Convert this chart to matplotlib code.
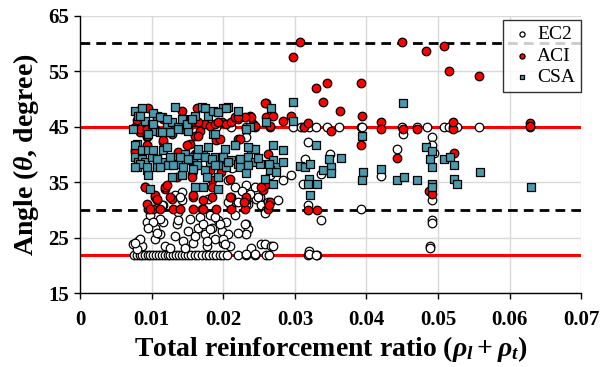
import matplotlib
matplotlib.use("Agg")
import matplotlib.pyplot as plt

plt.rcParams['font.family'] = ['Liberation Serif', 'DejaVu Serif']
plt.rcParams['mathtext.fontset'] = 'custom'
plt.rcParams['mathtext.rm'] = 'Liberation Serif:bold'
plt.rcParams['mathtext.it'] = 'Liberation Serif:italic:bold'
plt.rcParams['mathtext.bf'] = 'Liberation Serif:bold'

# ---------------- data ----------------
ec2_bottom_x = [0.0075, 0.0079, 0.0083, 0.0086, 0.009, 0.0094, 0.0098, 0.0102, 0.0106, 0.011,
                0.0114, 0.0118, 0.0122, 0.0126, 0.013, 0.0134, 0.0138, 0.0142, 0.0146, 0.015,
                0.0155, 0.016, 0.0165, 0.017, 0.0175, 0.018, 0.0185, 0.019, 0.0195, 0.02,
                0.0205, 0.0221, 0.0232, 0.0244, 0.026, 0.0264, 0.0318, 0.0331]
ec2_bottom_y = [21.8] * len(ec2_bottom_x)

ec2_row45_x = [0.019, 0.021, 0.0232, 0.0244, 0.0265, 0.0297, 0.0308, 0.0313, 0.0319, 0.033,
               0.0345, 0.0362, 0.0393, 0.0394, 0.045, 0.047, 0.0484, 0.0508, 0.0516, 0.0521,
               0.0526, 0.0557, 0.0629]
ec2_row45_y = [45.0] * len(ec2_row45_x)

ec2_x = [0.0074, 0.0081, 0.0086, 0.0079, 0.0104, 0.0104, 0.0111, 0.0116, 0.0118, 0.0125,
         0.0132, 0.0135, 0.0137, 0.0142, 0.0142, 0.0144, 0.0146, 0.0151, 0.0153, 0.0158,
         0.016, 0.0165, 0.0167, 0.017, 0.0172, 0.0174, 0.0177, 0.0179, 0.0181, 0.0184,
         0.0188, 0.0193, 0.0198, 0.02, 0.0204, 0.0207, 0.0209, 0.0211, 0.0216, 0.0221,
         0.0232, 0.0235, 0.0232, 0.0239, 0.0253, 0.0258, 0.0267, 0.0246, 0.0251, 0.0235,
         0.0253, 0.0277, 0.0132, 0.0116, 0.0111, 0.0093, 0.0097, 0.0102, 0.0095, 0.0107,
         0.0083, 0.0076, 0.0114, 0.0137, 0.0139,
         0.0207, 0.0216, 0.0232, 0.0244, 0.0232, 0.0207, 0.026, 0.023, 0.0221, 0.0195,
         0.0188, 0.0181, 0.0177, 0.02, 0.0202, 0.027, 0.0232, 0.0244,
         0.0212, 0.0226, 0.0232, 0.0237, 0.0249, 0.0263, 0.0258, 0.0265, 0.0284, 0.0295,
         0.0318, 0.0314, 0.0349, 0.0337, 0.0311, 0.0318, 0.0337, 0.0393, 0.0442, 0.0451,
         0.042, 0.032, 0.032, 0.033,
         0.0491, 0.0492, 0.0494, 0.0491, 0.0491, 0.0491, 0.0489, 0.0489]
ec2_y = [23.8, 24.4, 23.5, 22.9, 26.8, 24.7, 25.6, 27.8, 23.5, 23.2,
         25.3, 27.5, 29.6, 31.7, 33.2, 24.4, 23.2, 26.2, 28.4, 24.1,
         25.3, 26.8, 28.7, 30.2, 27.5, 25.6, 23.5, 32.0, 29.0, 26.8,
         24.7, 28.1, 26.2, 24.1, 27.8, 25.6, 23.5, 30.5, 29.0, 31.4,
         27.5, 26.6, 25.6, 23.2, 23.8, 23.8, 23.5, 32.0, 32.3, 31.1,
         30.8, 31.7, 32.6, 30.8, 28.4, 27.8, 29.0, 27.8, 26.8, 25.9,
         24.7, 24.1, 30.8, 28.1, 32.3,
         35.3, 34.1, 34.4, 34.1, 31.1, 31.4, 29.9, 27.5, 25.9, 27.5,
         28.7, 26.6, 24.4, 24.7, 23.8, 23.5, 22.0, 22.0,
         37.6, 33.4, 43.1, 32.9, 32.3, 31.4, 29.4, 36.2, 35.3, 36.2,
         42.2, 39.2, 40.1, 36.5, 34.6, 30.8, 28.1, 30.1, 40.9, 43.6,
         36.1, 22.6, 22.0, 21.9,
         43.1, 41.6, 40.2, 31.7, 28.1, 27.7, 23.5, 23.1]

aci_x = [0.0081, 0.0095, 0.0077, 0.0083, 0.0088, 0.0116, 0.0116, 0.0093, 0.0077, 0.0137,
         0.0142, 0.0146, 0.0132, 0.0153, 0.016, 0.0167, 0.0174, 0.0181, 0.0188, 0.0198,
         0.0204, 0.0211, 0.0221, 0.0216, 0.0221, 0.019, 0.0202, 0.0197, 0.0184, 0.0211,
         0.0209, 0.0181, 0.016, 0.0156, 0.0135, 0.0118, 0.0104, 0.0107, 0.009, 0.0128,
         0.0158, 0.0184, 0.0209,
         0.0094, 0.0102, 0.013, 0.0139, 0.0158, 0.0172, 0.019, 0.0211, 0.023, 0.0263,
         0.0093, 0.0104, 0.0118, 0.0158, 0.0172, 0.0184, 0.0232, 0.0256, 0.0265,
         0.0307, 0.0297, 0.0329, 0.0345, 0.0393, 0.0339, 0.0363, 0.0394, 0.042, 0.042,
         0.0451, 0.047, 0.0521, 0.0521, 0.0629, 0.0629, 0.045, 0.0483, 0.0508, 0.0516,
         0.0557, 0.0393, 0.0442, 0.0523, 0.0488, 0.0491,
         0.0259, 0.0259, 0.0269, 0.0283, 0.0295, 0.0312, 0.0318, 0.035, 0.0237, 0.0242,
         0.0232, 0.0263, 0.0258, 0.0253, 0.0231, 0.0229, 0.0264, 0.0318, 0.0331,
         0.0079, 0.0083, 0.0093, 0.0104, 0.0128, 0.0142, 0.0151, 0.016, 0.0163, 0.0093,
         0.0116, 0.0093, 0.0149, 0.0076, 0.0163,
         0.0258, 0.0239, 0.023, 0.0221, 0.0193, 0.0165, 0.0244, 0.0265, 0.0223, 0.0195,
         0.0165, 0.009, 0.0107, 0.0125, 0.0121, 0.0156, 0.0111, 0.0097]
aci_y = [47.9, 48.3, 44.9, 44.0, 44.6, 46.4, 42.2, 43.1, 40.7, 40.4,
         47.9, 45.5, 44.9, 41.9, 45.8, 44.3, 45.5, 45.2, 45.5, 45.8,
         45.5, 45.8, 46.4, 46.7, 42.8, 42.5, 38.9, 36.8, 35.3, 32.3,
         35.6, 37.1, 40.1, 36.5, 35.9, 33.8, 32.3, 31.7, 34.1, 32.0,
         32.3, 32.3, 32.3,
         30.2, 30.2, 30.2, 30.2, 30.2, 30.2, 30.2, 30.2, 30.2, 30.2,
         31.1, 32.6, 34.1, 32.6, 31.7, 34.1, 31.7, 33.5, 31.4,
         60.2, 57.5, 52.0, 52.8, 52.8, 49.5, 47.8, 47.0, 45.8, 44.5,
         44.6, 44.6, 44.6, 45.8, 45.7, 45.1, 60.2, 58.7, 59.6, 55.1,
         54.2, 41.7, 39.3, 40.3, 33.4, 32.9,
         49.2, 46.7, 46.9, 46.1, 46.9, 44.9, 45.7, 44.3, 46.9, 45.4,
         44.6, 40.1, 34.4, 34.1, 32.4, 31.4, 30.8, 30.0, 30.0,
         46.2, 44.6, 44.6, 44.6, 43.7, 44.6, 44.6, 43.4, 48.3, 43.4,
         42.5, 41.6, 41.6, 40.4, 38.0,
         49.2, 46.7, 46.7, 46.7, 45.8, 45.8, 45.2, 45.2, 42.8, 42.8,
         43.4, 34.1, 32.0, 32.3, 34.4, 35.9, 30.2, 30.2]

csa_x = [0.0077, 0.0086, 0.0081, 0.009, 0.01, 0.0107, 0.0114, 0.0104, 0.0121, 0.0128,
         0.0132, 0.0137, 0.0144, 0.0151, 0.016, 0.017, 0.0174, 0.0179, 0.0186, 0.0193,
         0.02, 0.0207, 0.0095, 0.0111, 0.0125, 0.0186, 0.0179, 0.0216,
         0.0079, 0.0077, 0.0081, 0.0079, 0.0086, 0.009, 0.0093, 0.0095, 0.01, 0.0107,
         0.0107, 0.0114, 0.0116, 0.0123, 0.0128, 0.0132, 0.0137, 0.0142, 0.0146, 0.0151,
         0.0158, 0.0163, 0.0172, 0.0174, 0.0172, 0.0177, 0.0181, 0.0188, 0.0193, 0.0193,
         0.0198, 0.0204, 0.0211, 0.0221, 0.0223, 0.0097, 0.016, 0.0193,
         0.0083, 0.0102, 0.0111, 0.0121, 0.0142, 0.0149, 0.0156, 0.0074, 0.0102, 0.0114,
         0.0137, 0.0077, 0.0086, 0.0095, 0.0102, 0.0107, 0.0121, 0.0125, 0.0139, 0.0151,
         0.0163, 0.0083, 0.0077, 0.0093, 0.0111, 0.013, 0.0144, 0.0158,
         0.0193, 0.0204, 0.0221, 0.0267, 0.026, 0.0237, 0.0232, 0.0188, 0.0216, 0.0239,
         0.0244, 0.027, 0.0202, 0.0165, 0.0174, 0.0184, 0.02, 0.0207, 0.0223, 0.0235,
         0.0244, 0.0251, 0.027, 0.0274, 0.0188, 0.0223, 0.0235, 0.0265,
         0.0297, 0.0297, 0.0235, 0.0284, 0.0249, 0.0283, 0.0264, 0.0273, 0.0258, 0.027,
         0.0232, 0.0307, 0.0314, 0.0321, 0.0319, 0.0318, 0.0331, 0.0321, 0.033, 0.0339,
         0.035, 0.035, 0.0348, 0.0365, 0.0394, 0.0395, 0.0394, 0.042, 0.0451, 0.0443,
         0.0452, 0.0471, 0.0483, 0.0489, 0.0491, 0.0492, 0.0491, 0.0509, 0.0517, 0.0522,
         0.0522, 0.0526, 0.0558, 0.063, 0.0491]
csa_y = [47.9, 48.3, 47.0, 46.1, 45.5, 47.0, 46.7, 44.3, 45.5, 45.8,
         48.5, 44.9, 46.4, 44.3, 47.0, 48.5, 48.3, 47.0, 47.9, 47.6,
         48.3, 48.5, 43.7, 44.0, 44.0, 43.7, 41.3, 41.6,
         41.9, 39.5, 38.6, 37.7, 39.2, 38.6, 37.1, 36.2, 39.5, 39.2,
         37.7, 38.6, 40.7, 38.0, 35.9, 39.5, 38.3, 36.2, 40.1, 38.9,
         39.5, 38.0, 39.8, 37.1, 34.1, 35.9, 38.6, 39.5, 38.0, 35.9,
         39.5, 37.7, 38.9, 38.3, 39.2, 33.8, 34.1, 33.8,
         47.0, 47.4, 46.7, 46.4, 46.4, 45.5, 46.4, 44.6, 45.5, 44.0,
         44.6, 41.6, 40.7, 40.7, 40.7, 39.2, 41.3, 39.5, 39.5, 39.2,
         39.8, 38.3, 37.7, 37.7, 37.7, 38.0, 37.7, 37.4,
         47.6, 48.3, 47.9, 48.3, 45.8, 44.9, 44.6, 43.7, 41.6, 41.0,
         41.0, 41.6, 41.0, 41.0, 39.5, 39.2, 39.5, 38.6, 39.2, 39.5,
         38.6, 38.3, 38.9, 37.7, 38.0, 37.7, 38.0, 37.1,
         49.5, 46.1, 41.3, 40.7, 39.4, 38.6, 38.2, 36.8, 35.6, 34.7,
         36.7, 37.9, 37.7, 38.2, 35.5, 34.7, 34.6, 32.6, 41.6, 37.2,
         37.7, 36.6, 39.2, 39.4, 43.3, 36.8, 35.3, 37.4, 49.3, 35.4,
         36.0, 35.4, 41.4, 39.2, 37.7, 34.7, 34.1, 39.1, 39.5, 38.0,
         35.6, 34.7, 36.8, 34.1, 40.6]

red_lines = [45.0, 21.8]
dashed_lines = [60.0, 30.0]
x_ticks = [0, 0.01, 0.02, 0.03, 0.04, 0.05, 0.06, 0.07]
x_tick_labels = ['0', '0.01', '0.02', '0.03', '0.04', '0.05', '0.06', '0.07']
y_ticks = [15, 25, 35, 45, 55, 65]

# ---------------- plot ----------------
fig = plt.figure(figsize=(6.13, 3.67), dpi=100)
ax = fig.add_axes([0.1310, 0.2016, 0.8170, 0.7556])

ax.set_xlim(0, 0.07)
ax.set_ylim(15, 65)
ax.set_xticks(x_ticks)
ax.set_xticklabels(x_tick_labels)
ax.set_yticks(y_ticks)
ax.grid(True, color='#d9d9d9', linewidth=1.0, zorder=0)
ax.set_axisbelow(True)

for yv in red_lines:
    ax.axhline(yv, color='#ff0000', linewidth=2.2, zorder=1)
for yv in dashed_lines:
    ax.axhline(yv, color='black', linewidth=2.0, linestyle=(0, (3.5, 2.2)), zorder=1)

ax.scatter(ec2_bottom_x + ec2_row45_x + ec2_x, ec2_bottom_y + ec2_row45_y + ec2_y,
           s=38, marker='o', facecolors='white', edgecolors='black', linewidths=0.9,
           zorder=3, label='EC2')
ax.scatter(aci_x, aci_y, s=38, marker='o', facecolors='#ff0000', edgecolors='black',
           linewidths=0.9, zorder=4, label='ACI')
ax.scatter(csa_x, csa_y, s=27, marker='s', facecolors='#4a9aae', edgecolors='black',
           linewidths=0.9, zorder=5, label='CSA')

for s in ['top', 'right']:
    ax.spines[s].set_visible(False)
for s in ['left', 'bottom']:
    ax.spines[s].set_color('black')
    ax.spines[s].set_linewidth(1.0)
ax.tick_params(direction='out', length=4, width=1, labelsize=15)
for lab in ax.get_xticklabels() + ax.get_yticklabels():
    lab.set_fontweight('bold')
ax.tick_params(axis='x', pad=8)
ax.tick_params(axis='y', pad=4)

ax.set_xlabel(r'Total reinforcement ratio ($\rho_l + \rho_t$)', fontsize=20,
              fontweight='bold', labelpad=3)
ax.set_ylabel(r'Angle ($\theta$, degree)', fontsize=20, fontweight='bold', labelpad=5)

leg = ax.legend(loc='upper right', bbox_to_anchor=(1.0, 0.985), borderaxespad=0,
                frameon=True, fancybox=False, edgecolor='black', fontsize=14,
                markerscale=0.6, handletextpad=0.15, handlelength=1.3,
                borderpad=0.3, labelspacing=0.2)
leg.get_frame().set_linewidth(1.0)
leg.set_zorder(10)

fig.savefig('out.png', dpi=100)
